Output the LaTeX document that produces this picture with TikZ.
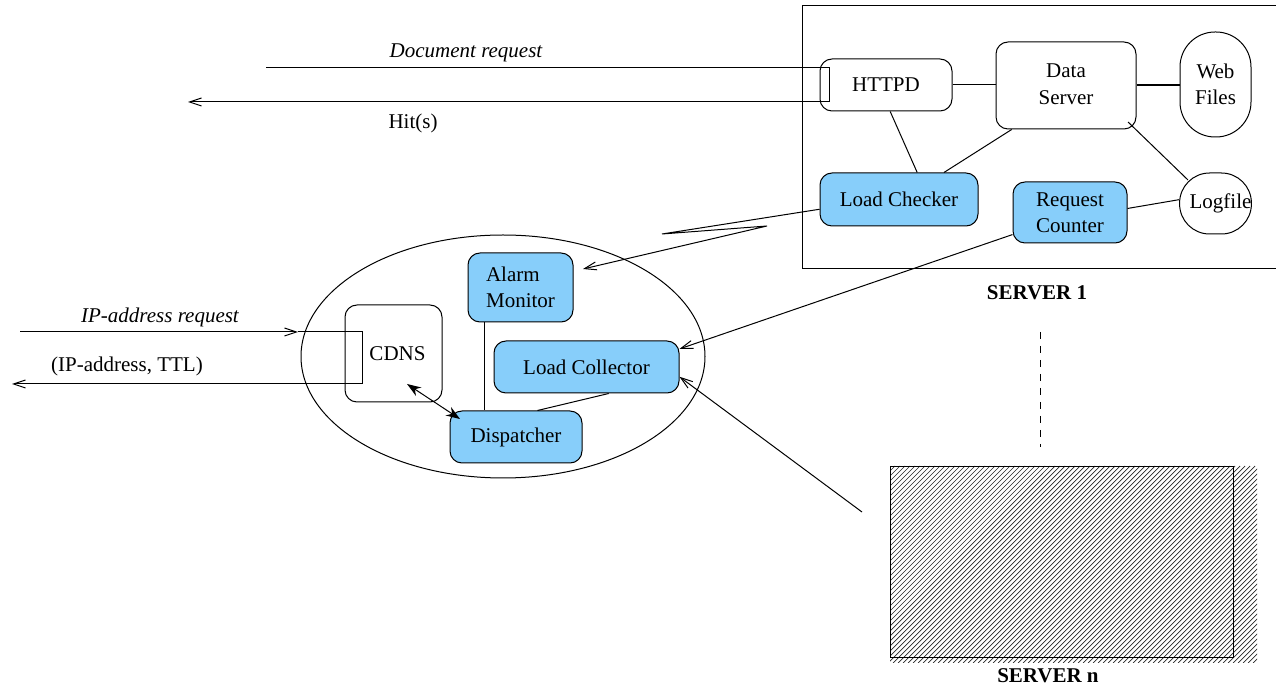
\documentclass[tikz,border=0pt]{standalone}
\usepackage{fontspec}
\setmainfont{Liberation Serif}
\usetikzlibrary{arrows.meta,calc,shapes.geometric}
\definecolor{boxblue}{RGB}{135,206,250}
\begin{document}
\begin{tikzpicture}[x=0.5pt,y=-0.5pt,line width=0.5pt,
  font=\fontsize{10.5}{13}\selectfont,
  every node/.style={inner sep=0pt},
  box/.style={draw, rounded corners=6pt, align=center},
  bluebox/.style={box, fill=boxblue},
  arr/.style={-{Straight Barb[length=6pt,width=4pt]}},
  dblarr/.style={{Stealth[length=7pt,width=5pt]}-{Stealth[length=7pt,width=5pt]}},
  hatchline/.style={line width=0.35pt, black!85}]
\useasboundingbox (0,0) rectangle (1276,689);

% cluster ellipse
\node[draw, ellipse, minimum width=202pt, minimum height=121.5pt] (cluster) at (503,356.5) {};

% server 1 frame (open to the right)
\draw (1280,6) -- (802,6) -- (802,269) -- (1280,269);
\node (s1lab) at (1037,293) {\textbf{SERVER 1}};

% server n (hatched)
\begin{scope}
  \clip (890,466) rectangle (1257,663);
  \foreach \i in {0,...,114} \draw[hatchline] ({693+5*\i},663) -- ++(197,-197);
\end{scope}
\node[draw, minimum width=171.5pt, minimum height=95.5pt, anchor=north west] (srvn) at (890,466) {};
\node (snlab) at (1048,676) {\textbf{SERVER n}};

% server 1 components
\node[box, minimum width=66pt, minimum height=26pt] (httpd) at (886,85) {HTTPD};
\node[box, minimum width=70pt, minimum height=43.5pt] (ds) at (1066,85.5) {\raisebox{-3pt}{\begin{tabular}{@{}c@{}}Data\\[0.5pt]Server\end{tabular}}};
\node[box, rounded corners=17.5pt, minimum width=35.5pt, minimum height=52.5pt] (web) at (1215.5,84.5) {Web\\Files};
\node[bluebox, minimum width=79pt, minimum height=26.5pt] (lck) at (899,199.5) {Load Checker};
\node[bluebox, minimum width=57pt, minimum height=30.5pt] (rc) at (1070,212.5) {Request\\Counter};
\node[box, rounded corners=15pt, minimum width=35.5pt, minimum height=30.5pt] (log) at (1215.5,203.5) {\hspace*{5pt}Logfile};

% cluster components
\node[bluebox, align=left, minimum width=52.5pt, minimum height=34.5pt] (am) at (520.5,287.5) {Alarm\\Monitor};
\node[bluebox, minimum width=92.5pt, minimum height=26pt] (lcol) at (586.5,367) {Load Collector};
\node[bluebox, minimum width=66pt, minimum height=26pt] (disp) at (516,437) {Dispatcher};
\node[box, minimum width=48.5pt, minimum height=48.5pt] (cdns) at (393.5,353.5) {\hspace*{4pt}CDNS};

% connectors inside server 1
\draw (httpd.east) -- (httpd.east -| ds.west);
\draw[line width=1pt] (web.west |- 0,85) -- (ds.east |- 0,85);
\draw (httpd.-81) -- (lck.56);
\draw (ds.-141) -- (lck.31);
\draw ($(ds.center)+(62,36.5)$) -- ($(log.center)+(-27.5,-23.5)$);
\draw (rc.4.5) -- (log.174);

% document request / hits
\coordinate (dr) at (266,68);
\coordinate (t1) at (829,68);
\coordinate (t2) at (829,102);
\coordinate (hit) at (188,102);
\draw[arr] (dr) -- (t1) -- (t2) -- (hit);
\node (drlab) at (466,53) {\itshape Document request};
\node (hitlab) at (413,123) {Hit(s)};

% IP-address request / answer
\coordinate (ip) at (20,332);
\coordinate (ipa) at (298,332);
\coordinate (c1) at (362,332);
\coordinate (c2) at (362,384);
\coordinate (ttl) at (12,384);
\draw[arr] (ip) -- (ipa);
\draw[arr] (ipa) -- (c1) -- (c2) -- (ttl);
\node (iplab) at (160,317) {\itshape IP-address request};
\node (ttllab) at (127,366) {(IP-address, TTL)};

% load checker -> alarm monitor
\coordinate (z1) at (662,234);
\coordinate (z2) at (767,226);
\draw[arr] (lck.187) -- (z1) -- (z2) -- ($(am.center)+(62.5,-18.5)$);

% request counter / server n -> load collector
\draw[arr] (rc.201.5) -- (lcol.11.5);
\coordinate (sn) at (862,512);
\draw[arr] (sn) -- (lcol.-6.7);

% cluster internal connectors
\coordinate (amb) at ($(am.south west)+(17,0)$);
\draw (amb) -- (amb |- disp.north);
\draw (lcol.-50.4) -- (disp.51);
\draw[dblarr] ($(cdns.center)+(13.5,30.5)$) -- ($(disp.center)+(-56,-18)$);

% dashed continuation
\coordinate (d1) at (1040,332);
\coordinate (d2) at (1040,447);
\draw[dash pattern=on 3.5pt off 3.5pt] (d1) -- (d2);
\end{tikzpicture}
\end{document}
